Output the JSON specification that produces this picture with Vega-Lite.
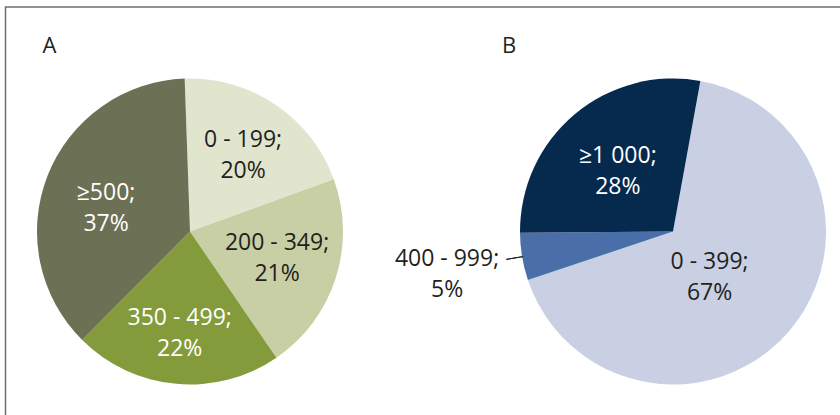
{
  "$schema": "https://vega.github.io/schema/vega-lite/v6.json",
  "width": 850,
  "height": 449,
  "autosize": {"type": "none"},
  "padding": {"left": 5.5, "top": 7, "right": -15.5, "bottom": -41},
  "background": "#ffffff",
  "config": {
    "view": {"stroke": "#6d6d6d", "strokeWidth": 1.5},
    "text": {"font": "Open Sans", "fontSize": 23, "lineBreak": "\n", "lineHeight": 31, "baseline": "middle", "align": "center"}
  },
  "datasets": {
    "pies": [
      {"panel": "A", "cat": "0 - 199", "pct": 20, "ord": 1, "label": "0 - 199;\n20%"},
      {"panel": "A", "cat": "200 - 349", "pct": 21, "ord": 2, "label": "200 - 349;\n21%"},
      {"panel": "A", "cat": "350 - 499", "pct": 22, "ord": 3, "label": "350 - 499;\n22%"},
      {"panel": "A", "cat": "≥500", "pct": 37, "ord": 4, "label": "≥500;\n37%"},
      {"panel": "B", "cat": "0 - 399", "pct": 67, "ord": 1, "label": "0 - 399;\n67%"},
      {"panel": "B", "cat": "400 - 999", "pct": 5, "ord": 2, "label": "400 - 999;\n5%"},
      {"panel": "B", "cat": "≥1 000", "pct": 28, "ord": 3, "label": "≥1 000;\n28%"}
    ],
    "letters": [
      {"panel": "A", "letter": "A"},
      {"panel": "B", "letter": "B"}
    ]
  },
  "resolve": {"scale": {"theta": "independent"}},
  "layer": [
    {
      "data": {"name": "pies"},
      "transform": [{"filter": "datum.panel === 'A'"}],
      "encoding": {
        "x": {"field": "panel", "type": "nominal", "scale": {"type": "point", "domain": ["A", "B"], "range": [184.5, 667.5], "padding": 0}, "axis": null},
        "theta": {"field": "pct", "type": "quantitative", "stack": true, "scale": {"domain": [0, 100], "range": [-0.0349, 6.2483]}},
        "order": {"field": "ord", "type": "quantitative"}
      },
      "layer": [
        {
          "mark": {"type": "arc", "radius": 153},
          "encoding": {
            "color": {"field": "cat", "type": "nominal", "legend": null,
              "scale": {"domain": ["0 - 199", "200 - 349", "350 - 499", "≥500", "0 - 399", "400 - 999", "≥1 000"],
                        "range": ["#e1e5ce", "#c8cfa5", "#849b3b", "#6c7054", "#c9d0e3", "#4a6fa8", "#052a4e"]}}
          }
        },
        {
          "mark": {"type": "text", "radius": 95, "dx": 0, "dy": -12.7, "color": "#231f20"},
          "encoding": {
            "text": {"field": "label"},
            "opacity": {"condition": {"test": "datum.cat === '0 - 199'", "value": 1}, "value": 0}
          }
        },
        {
          "mark": {"type": "text", "radius": 95, "dx": -3.4, "dy": -17.5, "color": "#231f20"},
          "encoding": {
            "text": {"field": "label"},
            "opacity": {"condition": {"test": "datum.cat === '200 - 349'", "value": 1}, "value": 0}
          }
        },
        {
          "mark": {"type": "text", "radius": 95, "dx": -1.7, "dy": -8.1, "color": "#ffffff"},
          "encoding": {
            "text": {"field": "label"},
            "opacity": {"condition": {"test": "datum.cat === '350 - 499'", "value": 1}, "value": 0}
          }
        },
        {
          "mark": {"type": "text", "radius": 95, "dx": 4.5, "dy": -3.8, "color": "#ffffff"},
          "encoding": {
            "text": {"field": "label"},
            "opacity": {"condition": {"test": "datum.cat === '≥500'", "value": 1}, "value": 0}
          }
        }
      ]
    },
    {
      "data": {"name": "pies"},
      "transform": [{"filter": "datum.panel === 'B'"}],
      "encoding": {
        "x": {"field": "panel", "type": "nominal", "scale": {"type": "point", "domain": ["A", "B"], "range": [184.5, 667.5], "padding": 0}, "axis": null},
        "theta": {"field": "pct", "type": "quantitative", "stack": true, "scale": {"domain": [0, 100], "range": [0.1798, 6.4630]}},
        "order": {"field": "ord", "type": "quantitative"}
      },
      "layer": [
        {
          "mark": {"type": "arc", "radius": 153},
          "encoding": {
            "color": {"field": "cat", "type": "nominal", "legend": null}
          }
        },
        {
          "transform": [
            {"window": [{"op": "sum", "field": "pct", "as": "cum"}], "sort": [{"field": "ord"}]},
            {"calculate": "datum.cum - datum.pct / 2", "as": "mid"},
            {"filter": "datum.cat === '400 - 999'"}
          ],
          "mark": {"type": "arc", "radius": 169, "radius2": 152, "stroke": "#231f20", "strokeWidth": 1, "fill": null},
          "encoding": {
            "theta": {"field": "mid", "type": "quantitative"},
            "theta2": {"field": "mid"}
          }
        },
        {
          "mark": {"type": "text", "radius": 81, "dx": -3, "dy": -13.5, "color": "#ffffff"},
          "encoding": {
            "text": {"field": "label"},
            "opacity": {"condition": {"test": "datum.cat === '≥1 000'", "value": 1}, "value": 0}
          }
        },
        {
          "mark": {"type": "text", "radius": 59, "dx": -8, "dy": -8.5, "color": "#231f20"},
          "encoding": {
            "text": {"field": "label"},
            "opacity": {"condition": {"test": "datum.cat === '0 - 399'", "value": 1}, "value": 0}
          }
        },
        {
          "mark": {"type": "text", "radius": 224, "dx": -5, "dy": -9, "color": "#231f20"},
          "encoding": {
            "text": {"field": "label"},
            "opacity": {"condition": {"test": "datum.cat === '400 - 999'", "value": 1}, "value": 0}
          }
        }
      ]
    },
    {
      "data": {"name": "letters"},
      "transform": [{"filter": "datum.panel === 'A'"}],
      "mark": {"type": "text", "fontSize": 22, "align": "left", "baseline": "alphabetic", "dx": -147.5, "color": "#231f20"},
      "encoding": {
        "x": {"field": "panel", "type": "nominal", "scale": {"type": "point", "domain": ["A", "B"], "range": [184.5, 667.5], "padding": 0}, "axis": null},
        "y": {"value": 45.5},
        "text": {"field": "letter"}
      }
    },
    {
      "data": {"name": "letters"},
      "transform": [{"filter": "datum.panel === 'B'"}],
      "mark": {"type": "text", "fontSize": 22, "align": "left", "baseline": "alphabetic", "dx": -171, "color": "#231f20"},
      "encoding": {
        "x": {"field": "panel", "type": "nominal", "scale": {"type": "point", "domain": ["A", "B"], "range": [184.5, 667.5], "padding": 0}, "axis": null},
        "y": {"value": 45.5},
        "text": {"field": "letter"}
      }
    }
  ]
}
